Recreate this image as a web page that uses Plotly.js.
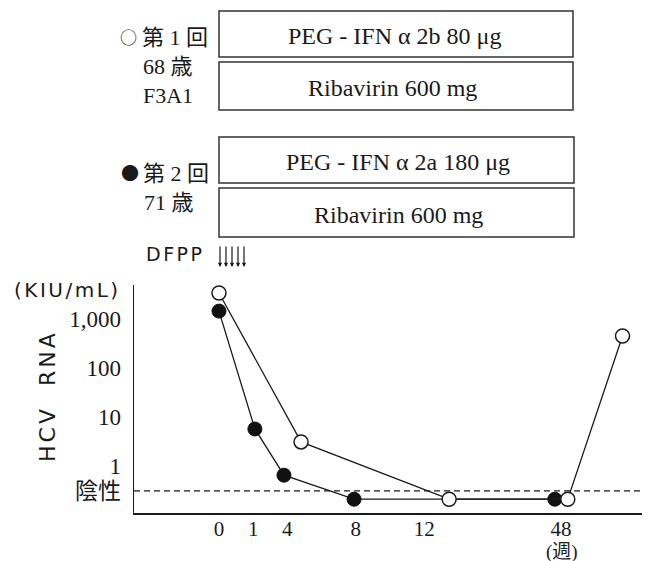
<!DOCTYPE html>
<html>
<head>
<meta charset="utf-8">
<script src="https://cdn.plot.ly/plotly-3.0.1.min.js"></script>
<style>html,body{margin:0;padding:0;background:#fff;}</style>
</head>
<body>
<div id="chart" style="width:649px;height:561px;"></div>
<script>
// ---- data ----
// x positions on a schematic (non-linear) week axis
const tickPositions = [0, 1, 2, 4, 6, 10];
const tickLabels = ['0', '1', '4', '8', '12', '48'];
const weekUnit = '(週)';

// ○ 第1回 (open circles)
const firstX = [0, 2.4, 6.73, 10.2, 11.8];
const firstY = [3400, 3.1, 0.21, 0.21, 450];
// ● 第2回 (filled circles)
const secondX = [0, 1.05, 1.9, 3.95, 9.82];
const secondY = [1450, 5.7, 0.65, 0.21, 0.21];

const negativeLevel = 0.31;
const yTickVals = [negativeLevel, 1, 10, 100, 1000];
const yTickText = ['陰性', '1', '10', '100', '1,000'];

const regimen1 = ['PEG - IFN α 2b 80 μg', 'Ribavirin 600 mg'];
const regimen2 = ['PEG - IFN α 2a 180 μg', 'Ribavirin 600 mg'];
const course1Symbol = '○';
const course2Symbol = '●';
const course1Labels = ['第 1 回', '68 歳', 'F3A1'];
const course2Labels = ['第 2 回', '71 歳'];
const dfppLabel = 'DFPP';
const dfppCount = 5;
const yUnit = '(KIU/mL)';
const yTitle = 'HCV  RNA';

// ---- layout helpers (pixel -> paper) ----
const W = 649, PH = 513;
const px = x => x / W;
const py = y => (PH - y) / PH;
const spaced = (t, s) => '<span style="letter-spacing:' + s + 'px">' + t + '</span>';

const serif = 'Liberation Serif, Noto Sans CJK JP, serif';
const sans = 'DejaVu Sans, Noto Sans CJK JP, sans-serif';
const cjk = 'Noto Sans CJK JP, sans-serif';
const ink = '#1a1a1a';

const xRange = [-2.485, 12.37];

const traces = [
  {x: xRange, y: [negativeLevel, negativeLevel], mode: 'lines',
   line: {color: ink, width: 1.2, dash: '6px,4px'}, hoverinfo: 'skip', showlegend: false},
  {x: secondX, y: secondY, mode: 'lines+markers', showlegend: false,
   line: {color: ink, width: 1.3},
   marker: {symbol: 'circle', size: 14, color: '#111', line: {color: '#111', width: 1}}},
  {x: firstX, y: firstY, mode: 'lines+markers', showlegend: false,
   line: {color: ink, width: 1.3},
   marker: {symbol: 'circle', size: 14, color: '#fff', line: {color: ink, width: 1.5}}}
];

const shapes = [];
const annotations = [];
const boxRows = [[11, 57], [62, 110], [137, 183], [188, 237]];
const boxTexts = [regimen1[0], regimen1[1], regimen2[0], regimen2[1]];
const boxCx = [394, 392, 398, 398];
boxRows.forEach((r, i) => {
  shapes.push({type: 'rect', xref: 'paper', yref: 'paper',
    x0: px(219), x1: px(i < 2 ? 573 : 574), y0: py(r[1]), y1: py(r[0]),
    line: {color: '#333', width: 1.5}, fillcolor: 'rgba(0,0,0,0)'});
  annotations.push({xref: 'paper', yref: 'paper', x: px(boxCx[i]), y: py((r[0] + r[1]) / 2 + 2),
    text: boxTexts[i], showarrow: false, xanchor: 'center', yanchor: 'middle',
    font: {family: serif, size: 24, color: ink}});
});

// course symbols
annotations.push({xref: 'paper', yref: 'paper', x: px(128), y: py(36), text: course1Symbol,
  showarrow: false, xanchor: 'center', yanchor: 'middle', font: {family: cjk, size: 17, color: ink}});
annotations.push({xref: 'paper', yref: 'paper', x: px(130), y: py(172), text: course2Symbol,
  showarrow: false, xanchor: 'center', yanchor: 'middle', font: {family: cjk, size: 18, color: ink}});

const c1pos = [[140, 37], [141, 66], [141, 95]];
course1Labels.forEach((t, i) => annotations.push({xref: 'paper', yref: 'paper',
  x: px(c1pos[i][0]), y: py(c1pos[i][1]), text: t, showarrow: false, xanchor: 'left', yanchor: 'middle',
  font: {family: serif, size: 22, color: ink}}));
const c2pos = [[141, 173], [142, 202]];
course2Labels.forEach((t, i) => annotations.push({xref: 'paper', yref: 'paper',
  x: px(c2pos[i][0]), y: py(c2pos[i][1]), text: t, showarrow: false, xanchor: 'left', yanchor: 'middle',
  font: {family: serif, size: 22, color: ink}}));

annotations.push({xref: 'paper', yref: 'paper', x: px(144), y: py(254), text: spaced(dfppLabel, 2.5),
  showarrow: false, xanchor: 'left', yanchor: 'middle', font: {family: sans, size: 19, color: ink}});
for (let k = 0; k < dfppCount; k++) {
  annotations.push({xref: 'paper', yref: 'paper', x: px(220 + k * 6), y: py(267), text: '',
    showarrow: true, ax: 0, ay: -22, arrowhead: 2, arrowsize: 0.7, arrowwidth: 1.2, arrowcolor: ink});
}

annotations.push({xref: 'paper', yref: 'paper', x: px(12), y: py(290), text: spaced(yUnit, 2.5),
  showarrow: false, xanchor: 'left', yanchor: 'middle', font: {family: sans, size: 20, color: ink}});
annotations.push({xref: 'paper', yref: 'paper', x: px(47), y: py(396), text: spaced(yTitle, 3), textangle: -90,
  showarrow: false, xanchor: 'center', yanchor: 'middle', font: {family: sans, size: 22, color: ink}});
annotations.push({xref: 'paper', yref: 'paper', x: px(562), y: py(552), text: weekUnit,
  showarrow: false, xanchor: 'center', yanchor: 'middle', font: {family: serif, size: 19, color: ink}});

const layout = {
  width: 649, height: 561,
  margin: {l: 0, r: 0, t: 0, b: 48, pad: 0},
  paper_bgcolor: '#fff', plot_bgcolor: '#fff',
  showlegend: false,
  xaxis: {domain: [134 / W, 642 / W], range: xRange, showgrid: false, zeroline: false,
    showline: true, linecolor: ink, linewidth: 1.5, ticks: '',
    tickmode: 'array', tickvals: tickPositions, ticktext: tickLabels,
    tickfont: {family: serif, size: 21, color: ink}, ticklabelstandoff: -4},
  yaxis: {domain: [0, (PH - 285) / PH], type: 'log', range: [-0.959, 3.694],
    showgrid: false, zeroline: false, showline: true, linecolor: ink, linewidth: 1.5, ticks: '',
    tickmode: 'array', tickvals: yTickVals, ticktext: yTickText,
    tickfont: {family: serif, size: 23, color: ink}, ticklabelstandoff: 7},
  shapes: shapes,
  annotations: annotations
};

Plotly.newPlot('chart', traces, layout, {displayModeBar: false, staticPlot: true});
</script>
</body>
</html>
